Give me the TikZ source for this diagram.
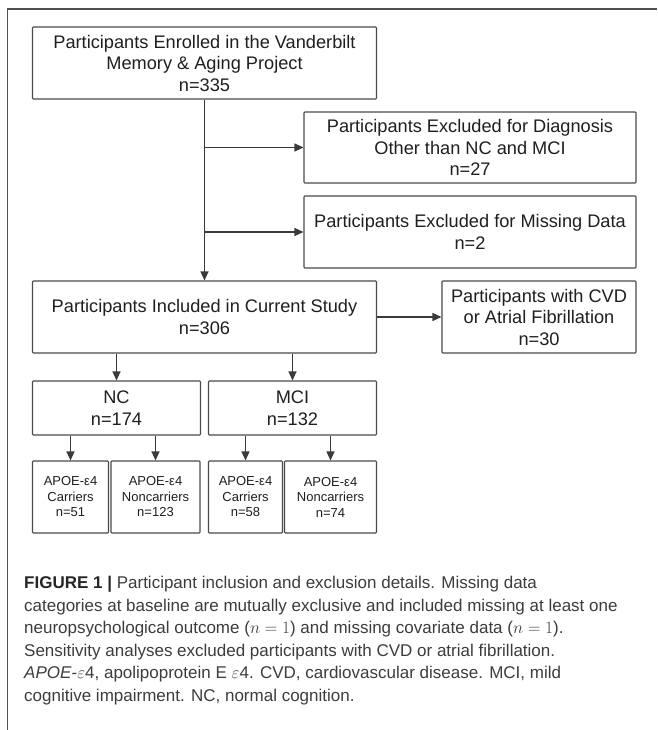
\documentclass[tikz,border=0pt]{standalone}
\usepackage{fontspec}
\setmainfont{Liberation Sans}
\usetikzlibrary{arrows.meta}
\definecolor{boxgray}{HTML}{4A4A4A}
\definecolor{linegray}{HTML}{3A3A3A}
\definecolor{framegray}{HTML}{505050}
\definecolor{capgray}{HTML}{3C3C3C}
\begin{document}
\begin{tikzpicture}[x=1pt,y=-1pt,
  box/.style={draw=boxgray, line width=1.1pt, fill=white, rounded corners=0.8pt,
    align=center, inner sep=0pt, text=black!88,
    font=\fontsize{18.2}{21.5}\selectfont},
  smallbox/.style={box, font=\fontsize{13}{15.5}\selectfont},
  arr/.style={draw=linegray, line width=1.1pt, -{Triangle[length=9pt,width=8pt]}},
  caption/.style={anchor=north west, align=left, inner sep=0pt, text=capgray,
    font=\fontsize{17}{22.5}\selectfont}
]
\useasboundingbox (0,0) rectangle (657,730);
% page frame
\draw[framegray, line width=1.8pt] (7.3,9) -- (657,9);
\draw[framegray, line width=1.2pt] (7.3,9) -- (7.3,730);

% boxes
\node[box, minimum width=344pt, minimum height=72pt] (b1) at (204.5,63)
  {Participants Enrolled in the Vanderbilt\\Memory \& Aging Project\\n=335};
\node[box, minimum width=332pt, minimum height=71pt] (ex1) at (470,147.5)
  {Participants Excluded for Diagnosis\\Other than NC and MCI\\n=27};
\node[box, minimum width=332pt, minimum height=72pt] (ex2) at (470,232)
  {Participants Excluded for Missing Data\\n=2};
\node[box, minimum width=344pt, minimum height=72pt] (inc) at (204.5,317)
  {Participants Included in Current Study\\n=306};
\node[box, minimum width=194pt, minimum height=72pt] (cvd) at (539,317)
  {Participants with CVD\\or Atrial Fibrillation\\n=30};
\node[box, minimum width=168pt, minimum height=54pt] (nc) at (116.5,408)
  {NC\\n=174};
\node[box, minimum width=168pt, minimum height=54pt] (mci) at (292.5,408)
  {MCI\\n=132};
\node[smallbox, minimum width=76pt, minimum height=72pt] (a1) at (70.5,497)
  {APOE-ε4\\Carriers\\n=51};
\node[smallbox, minimum width=89pt, minimum height=72pt] (a2) at (155.5,497)
  {APOE-ε4\\Noncarriers\\n=123};
\node[smallbox, minimum width=74pt, minimum height=72pt] (a3) at (245.5,497)
  {APOE-ε4\\Carriers\\n=58};
\node[smallbox, minimum width=92pt, minimum height=72pt] (a4) at (330.5,497)
  {APOE-ε4\\Noncarriers\\n=74};

% connectors
\draw[arr] (b1.south) -- (inc.north);
\draw[arr] (b1.south |- ex1.west) -- (ex1.west);
\draw[arr] (b1.south |- ex2.west) -- (ex2.west);
\draw[arr] (inc.east) -- (cvd.west);
\draw[arr] (inc.south -| nc.north) -- (nc.north);
\draw[arr] (inc.south -| mci.north) -- (mci.north);
\draw[arr] (nc.south -| a1.north) -- (a1.north);
\draw[arr] (nc.south -| a2.north) -- (a2.north);
\draw[arr] (mci.south -| a3.north) -- (a3.north);
\draw[arr] (mci.south -| a4.north) -- (a4.north);

% caption
\node[caption] (cap) at (24,576) {%
\textbf{\color{black!85}FIGURE 1 |} Participant inclusion and exclusion details. Missing data\\
categories at baseline are mutually exclusive and included missing at least one\\
neuropsychological outcome ($n=1$) and missing covariate data ($n=1$).\\
Sensitivity analyses excluded participants with CVD or atrial fibrillation.\\
\textit{APOE}-$\varepsilon$4, apolipoprotein E $\varepsilon$4. CVD, cardiovascular disease. MCI, mild\\
cognitive impairment. NC, normal cognition.};
\end{tikzpicture}
\end{document}
